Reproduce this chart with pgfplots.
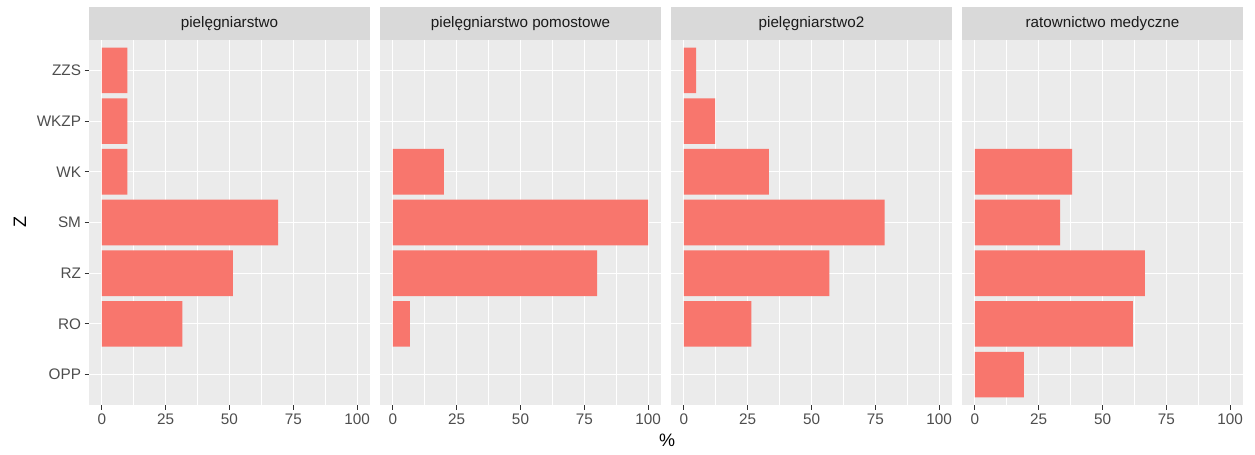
\documentclass[border=0pt]{standalone}
\usepackage{fontspec}
\setmainfont{Liberation Sans}
\usepackage{pgfplots}
\pgfplotsset{compat=1.18}
\definecolor{barred}{HTML}{F8766D}
\definecolor{panelbg}{HTML}{EBEBEB}
\definecolor{stripbg}{HTML}{D9D9D9}
\definecolor{ticklab}{HTML}{4D4D4D}
\definecolor{tickcol}{HTML}{333333}
\definecolor{striptext}{HTML}{1A1A1A}
\pgfplotsset{
  facet/.style={
    width=281bp, height=365bp, scale only axis,
    anchor=south west,
    xmin=-5, xmax=105, ymin=0.4, ymax=7.6,
    xtick={0,25,50,75,100}, minor xtick={12.5,37.5,62.5,87.5},
    ytick={1,2,3,4,5,6,7},
    axis background/.style={fill=panelbg},
    axis line style={draw=none},
    grid=both,
    major grid style={white, line width=1.1bp},
    minor grid style={white, line width=0.55bp},
    tick align=outside,
    major tick length=4.5bp, minor tick length=0pt,
    tick style={tickcol, line width=1bp},
    xtick pos=left, ytick pos=left,
    tick label style={font=\fontsize{15.3bp}{17bp}\selectfont, text=ticklab},
    xticklabel style={yshift=-1bp},
    /pgf/number format/assume math mode=true,
    xbar, bar width=0.9,
  },
  bars/.style={fill=barred, draw=none},
}
\newcommand{\strip}[2]{%
  \fill[stripbg] (#1.north west) rectangle ([yshift=33bp]#1.north east);
  \node[font=\fontsize{15.2bp}{17bp}\selectfont, text=striptext] at ([yshift=16.5bp]#1.north) {#2};
}
\begin{document}
\begin{tikzpicture}
\path[use as bounding box] (0,0) rectangle (1255bp,455bp);

\begin{axis}[facet, at={(89bp,50bp)}, name=a1,
  yticklabels={OPP,RO,RZ,SM,WK,WKZP,ZZS}]
\addplot[bars] coordinates {(10,7) (10,6) (10,5) (69,4) (51.3,3) (31.6,2)};
\end{axis}

\begin{axis}[facet, at={(380bp,50bp)}, name=a2,
  yticklabels={}, ytick style={draw=none}]
\addplot[bars] coordinates {(20,5) (100,4) (80,3) (6.7,2)};
\end{axis}

\begin{axis}[facet, at={(671bp,50bp)}, name=a3,
  yticklabels={}, ytick style={draw=none}]
\addplot[bars] coordinates {(4.8,7) (12.3,6) (33.3,5) (78.6,4) (57,3) (26.5,2)};
\end{axis}

\begin{axis}[facet, at={(962bp,50bp)}, name=a4,
  yticklabels={}, ytick style={draw=none}]
\addplot[bars] coordinates {(38.1,5) (33.4,4) (66.6,3) (61.9,2) (19.2,1)};
\end{axis}

\strip{a1}{pielęgniarstwo}
\strip{a2}{pielęgniarstwo pomostowe}
\strip{a3}{pielęgniarstwo2}
\strip{a4}{ratownictwo medyczne}

\node[font=\fontsize{18bp}{20bp}\selectfont] at (667bp,15bp) {\%};
\node[font=\fontsize{18bp}{20bp}\selectfont, rotate=90] at (20bp,233bp) {Z};
\end{tikzpicture}
\end{document}
